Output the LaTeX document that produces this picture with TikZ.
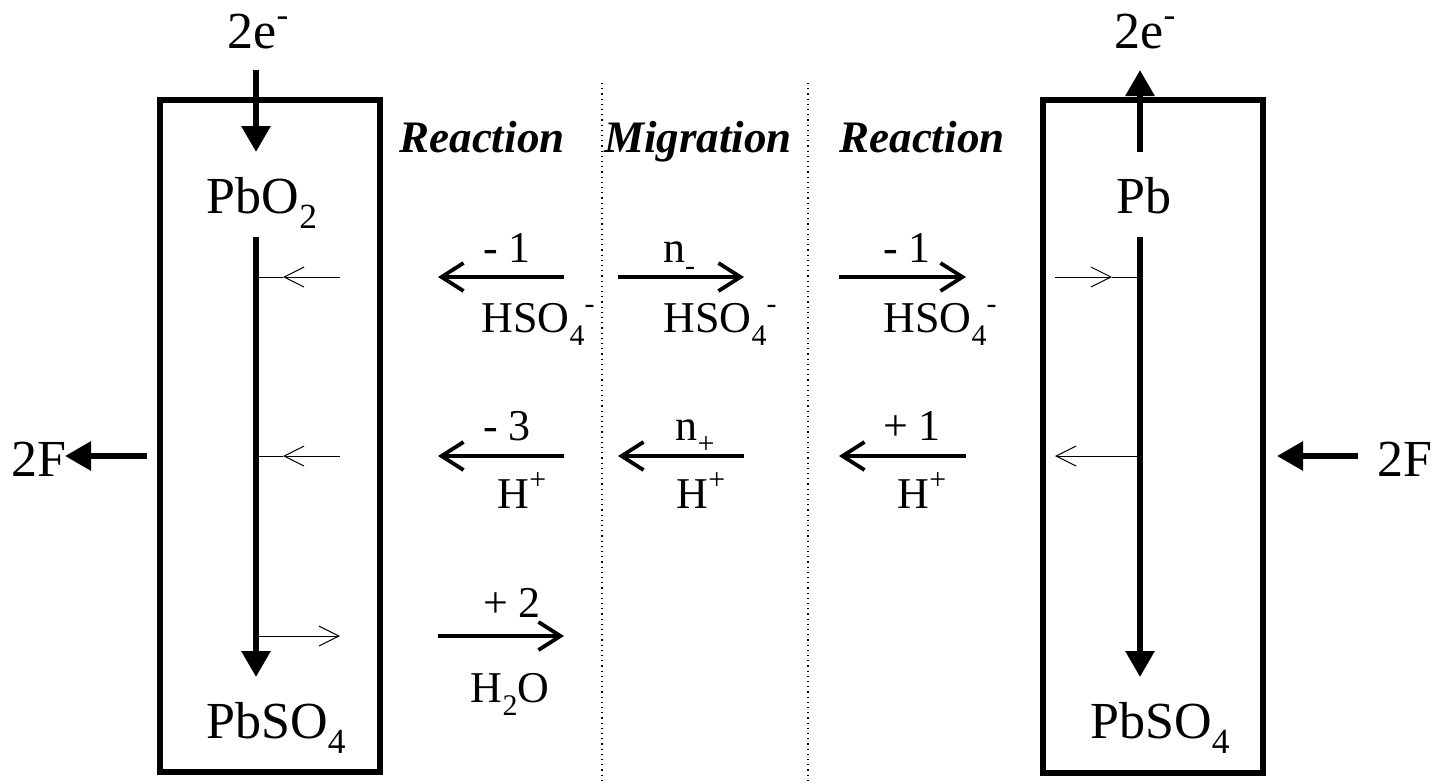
\documentclass[tikz,border=0pt]{standalone}
\usepackage{fontspec}
\setmainfont{Liberation Serif}
\usetikzlibrary{arrows.meta}

\newcommand\lo[1]{\raisebox{-0.3em}{\scalebox{0.68}{#1}}}
\newcommand\hi[1]{\raisebox{0.42em}{\scalebox{0.68}{#1}}}

\tikzset{
  big/.style={font=\fontsize{26}{30}\selectfont,inner sep=0pt,anchor=base},
  lab/.style={font=\fontsize{22}{26}\selectfont,inner sep=0pt,anchor=base},
  head/.style={font=\fontsize{22.5}{27}\selectfont\bfseries\itshape,inner sep=0pt,anchor=base},
  cell/.style={line width=3pt},
  flow/.style={line width=3pt,-{Triangle[length=13pt,width=14pt]}},
  ion/.style={line width=1.9pt,-{Straight Barb[length=11pt,width=14pt,line width=1.9pt]}},
  tiny/.style={line width=0.5pt,-{Straight Barb[length=10pt,width=10pt,line width=0.5pt]}},
  stem/.style={line width=0.5pt},
  sep/.style={line width=0.6pt,dotted}
}

\begin{document}
\begin{tikzpicture}[x=0.5pt,y=-0.5pt]
\useasboundingbox (0,0) rectangle (1437,783);

% electrodes
\draw[cell] (160,100) rectangle (380,772);
\draw[cell] (1043,100) rectangle (1263,773);
\draw[sep] (602,83) -- (602,783);
\draw[sep] (808,83) -- (808,783);

% texts
\node[big] (eL) at (258,48) {2e\hi{-}};
\node[big] (eR) at (1145,48) {2e\hi{-}};
\node[big] (pbo) at (262,213) {PbO\lo{2}};
\node[big] (pb) at (1144,213) {Pb};
\node[big] (sL) at (276,738) {PbSO\lo{4}};
\node[big] (sR) at (1160,738) {PbSO\lo{4}};
\node[big] (fL) at (39,476) {2F};
\node[big] (fR) at (1405,476) {2F};
\node[head] (hA) at (482,152) {Reaction};
\node[head] (hB) at (698,152) {Migration};
\node[head] (hC) at (922,152) {Reaction};

\node[lab] (a1) at (507,262) {- 1};
\node[lab] (a2) at (538,332) {HSO\lo{4}\hi{-}};
\node[lab] (b1) at (679,262) {n\lo{-}};
\node[lab] (b2) at (720,332) {HSO\lo{4}\hi{-}};
\node[lab] (c1) at (907,262) {- 1};
\node[lab] (c2) at (940,332) {HSO\lo{4}\hi{-}};
\node[lab] (a3) at (507,440) {- 3};
\node[lab] (a4) at (522,508) {H\hi{+}};
\node[lab] (b3) at (695,440) {n\lo{+}};
\node[lab] (b4) at (701,508) {H\hi{+}};
\node[lab] (c3) at (912,440) {+ 1};
\node[lab] (c4) at (922,508) {H\hi{+}};
\node[lab] (a5) at (512,617) {+ 2};
\node[lab] (a6) at (510,702) {H\lo{2}O};

% end points
\coordinate (inL) at (256,70);  \coordinate (topL) at (256,152);
\coordinate (midL) at (256,237); \coordinate (botL) at (256,677);
\coordinate (inR) at (1140,152); \coordinate (topR) at (1140,70);
\coordinate (midR) at (1140,237); \coordinate (botR) at (1140,677);
\coordinate (fL0) at (147,456); \coordinate (fL1) at (65,456);
\coordinate (fR0) at (1358,456); \coordinate (fR1) at (1277,456);

\draw[flow] (inL) -- (topL);
\draw[flow] (midL) -- (botL);
\draw[flow] (inR) -- (topR);
\draw[flow] (midR) -- (botR);
\draw[flow] (fL0) -- (fL1);
\draw[flow] (fR0) -- (fR1);

% inside the electrodes
\coordinate (p1) at (340,277); \coordinate (t1) at (283,277); \coordinate (s1) at (256,277);
\coordinate (p2) at (340,456); \coordinate (t2) at (283,456); \coordinate (s2) at (256,456);
\coordinate (p3) at (340,636); \coordinate (s3) at (256,636);
\coordinate (q1) at (1055,277); \coordinate (u1) at (1112,277); \coordinate (r1) at (1140,277);
\coordinate (q2) at (1055,456); \coordinate (r2) at (1140,456);
\draw[tiny] (p1) -- (t1); \draw[stem] (t1) -- (s1);
\draw[tiny] (p2) -- (t2); \draw[stem] (t2) -- (s2);
\draw[tiny] (s3) -- (p3);
\draw[tiny] (q1) -- (u1); \draw[stem] (u1) -- (r1);
\draw[tiny] (r2) -- (q2);

% ion fluxes
\coordinate (x1) at (438,0); \coordinate (x2) at (564,0);
\coordinate (x3) at (618,0); \coordinate (x4) at (744,0);
\coordinate (x5) at (839,0); \coordinate (x6) at (966,0);
\draw[ion] (x2|-0,277) -- (x1|-0,277);
\draw[ion] (x3|-0,277) -- (x4|-0,277);
\draw[ion] (x5|-0,277) -- (x6|-0,277);
\draw[ion] (x2|-0,456) -- (x1|-0,456);
\draw[ion] (x4|-0,456) -- (x3|-0,456);
\draw[ion] (x6|-0,456) -- (x5|-0,456);
\draw[ion] (x1|-0,636) -- (x2|-0,636);
\end{tikzpicture}
\end{document}
